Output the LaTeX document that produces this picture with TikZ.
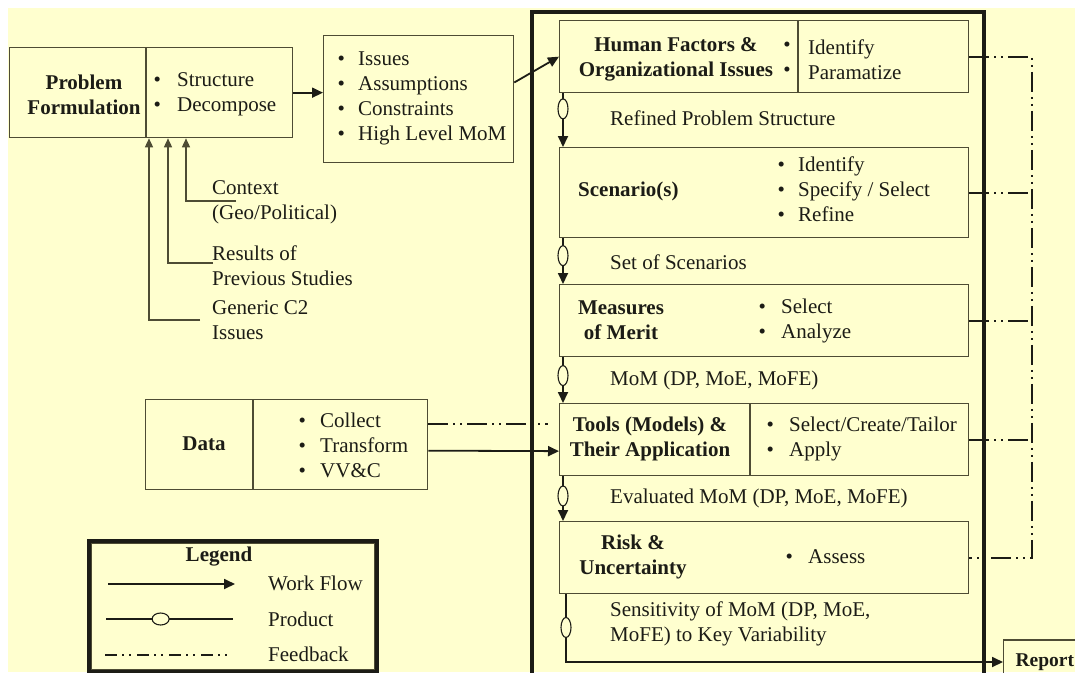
\documentclass[tikz,border=0pt]{standalone}
\usepackage{fontspec}
\setmainfont{Liberation Serif}
\usetikzlibrary{arrows.meta,calc,shapes.geometric}
\definecolor{paper}{RGB}{255,255,207}
\definecolor{ink}{RGB}{28,28,22}
\definecolor{edge}{RGB}{78,76,52}
% bullet item: bullet in a fixed-width box, then the text
\newcommand\bul[2][22.5]{\makebox[#1pt][l]{\textbullet}#2}

\begin{document}
\begin{tikzpicture}[x=1pt,y=-1pt,
  every node/.style={font=\fontsize{21}{25}\selectfont, text=ink, inner sep=0pt},
  box/.style 2 args={draw=edge, line width=1.3pt, anchor=north west,
    minimum width=#1pt, minimum height=#2pt},
  title/.style={font=\fontsize{21}{25}\selectfont\bfseries, align=center},
  list/.style={anchor=west, align=left},
  divider/.style={draw=edge, line width=1.3pt},
  flow/.style={draw=ink, line width=1.8pt, -{Triangle[length=11pt,width=10pt]}},
  ctx/.style={draw=edge, line width=1.4pt, -{Triangle[length=9pt,width=8pt]}},
  fb/.style={draw=ink, line width=1.8pt,
    dash pattern=on 20pt off 5pt on 2pt off 5pt on 2pt off 5pt},
  oval/.style={ellipse, draw=ink, line width=1.1pt, fill=paper,
    minimum width=10pt, minimum height=20pt, inner sep=0pt},
  hoval/.style={ellipse, draw=ink, line width=1.1pt, fill=paper,
    minimum width=17pt, minimum height=12pt, inner sep=0pt},
]
\useasboundingbox (0,0) rectangle (1075,672);
\clip (0,0) rectangle (1075,672);
\fill[white] (0,0) rectangle (1075,672);
\fill[paper] (8,8) rectangle (1075,672);

% ---------- left column ----------
\node[box={283}{90}] (pf) at (9,47) {};
\draw[divider] ($(pf.north west)+(137,0)$) -- ($(pf.south west)+(137,0)$);
\node[title] (pft) at (84,94.5) {Problem\\Formulation};
\node[list] (pfl) at (153.5,94.5) {\bul[23.5]{Structure}\\\bul[23.5]{Decompose}};

\node[box={190}{127}] (iss) at (323,35) {};
\node[list] (issl) at (337.5,98.5)
  {\bul[20.5]{Issues}\\\bul[20.5]{Assumptions}\\\bul[20.5]{Constraints}\\\bul[20.5]{High Level MoM}};

\draw[flow] (pf.east) -- (pf.east -| iss.west);

% inputs to the problem formulation
\node[list] (ctx1) at (212,202) {Context\\(Geo/Political)};
\node[list] (ctx2) at (212,266) {Results of\\Previous Studies};
\node[list] (ctx3) at (212,320) {Generic C2\\Issues};
\coordinate (c1) at (236,201);
\coordinate (c2) at (213,263);
\coordinate (c3) at (200,320);
\draw[ctx] (c1) -| ($(pf.south west)+(177,0)$);
\draw[ctx] (c2) -| ($(pf.south west)+(159,0)$);
\draw[ctx] (c3) -| ($(pf.south west)+(140,0)$);

% data
\node[box={282}{90}] (data) at (145,399) {};
\draw[divider] ($(data.north west)+(108,0)$) -- ($(data.south west)+(108,0)$);
\node[title] (datat) at (204,444) {Data};
\node[list] (datal) at (298.5,445)
  {\bul[21.5]{Collect}\\\bul[21.5]{Transform}\\\bul[21.5]{VV\&C}};

% ---------- analysis frame ----------
\node[draw=ink, line width=4pt, anchor=north west, minimum width=452pt,
  minimum height=690pt] (core) at (530,10) {};

\node[box={409}{72}] (hf) at (559,20) {};
\draw[divider] ($(hf.north west)+(239,0)$) -- ($(hf.south west)+(239,0)$);
\node[title] (hft) at (676,59.5) {Human Factors \&\\Organizational Issues};
\node[align=center] (hfb) at (787,59.5) {\textbullet\\\textbullet};
\node[list] (hfl) at (808,59.5) {Identify\\Paramatize};

\draw[flow] ($(iss.north east)!0.37!(iss.south east)$) -- (hf.west);

\node[box={409}{90}] (sc) at (559,147) {};
\node[title, anchor=west] (sct) at (578,191) {Scenario(s)};
\node[list] (scl) at (777.5,189.5)
  {\bul[20.5]{Identify}\\\bul[20.5]{Specify / Select}\\\bul[20.5]{Refine}};

\node[box={409}{72}] (mm) at (559,284) {};
\node[title] (mmt) at (621,320.5) {Measures\\of Merit};
\node[list] (mml) at (758.5,320.5) {\bul{Select}\\\bul{Analyze}};

\node[box={409}{72}] (tl) at (559,403) {};
\draw[divider] ($(tl.north west)+(191,0)$) -- ($(tl.south west)+(191,0)$);
\node[title] (tlt) at (650,439) {Tools (Models) \&\\Their Application};
\node[list] (tll) at (766.5,439) {\bul{Select/Create/Tailor}\\\bul{Apply}};

\node[box={409}{72}] (rk) at (559,521) {};
\node[title] (rkt) at (633,557) {Risk \&\\Uncertainty};
\node[list] (rkl) at (785.5,557) {\bul{Assess}};

\node[draw=edge, line width=1.3pt, anchor=west, minimum height=44pt,
  minimum width=90pt, font=\fontsize{19.5}{24}\selectfont\bfseries,
  text width=80pt, inner sep=0pt] (rep) at (1003,662) {\hspace*{7pt}Report};

% products between stages
\draw[flow] ($(hf.south west)+(4,0)$) -- node[oval,pos=0.29] (o1) {} ($(sc.north west)+(4,0)$);
\draw[flow] ($(sc.south west)+(4,0)$) -- node[oval,pos=0.38] (o2) {} ($(mm.north west)+(4,0)$);
\draw[flow] ($(mm.south west)+(4,0)$) -- node[oval,pos=0.40] (o3) {} ($(tl.north west)+(4,0)$);
\draw[flow] ($(tl.south west)+(4,0)$) -- node[oval,pos=0.44] (o4) {} ($(rk.north west)+(4,0)$);
\draw[flow] ($(rk.south west)+(7,0)$) |- node[oval,pos=0.245] (o5) {} (rep.west);

\node[list] (p1) at (610,118) {Refined Problem Structure};
\node[list] (p2) at (610,262) {Set of Scenarios};
\node[list] (p3) at (610,380) {MoM (DP, MoE, MoFE)};
\node[list] (p4) at (610,498) {Evaluated MoM (DP, MoE, MoFE)};
\node[list] (p5) at (610,624) {Sensitivity of MoM (DP, MoE,\\MoFE) to Key Variability};

% data feeds the tools
\draw[flow] ($(data.east)+(0,6)$) -- ($(tl.west)+(0,11.5)$);
\draw[fb] ($(data.east)+(0,-21)$) -- ++(120,0);

% feedback loop
\coordinate (fbx) at (1032,0);
\draw[fb] (hf.east) -- (hf.east -| fbx) -- (rk.east -| fbx) -- (rk.east);
\draw[fb] (sc.east) -- (sc.east -| fbx);
\draw[fb] (mm.east) -- (mm.east -| fbx);
\draw[fb] (tl.east) -- (tl.east -| fbx);

% ---------- legend ----------
\node[draw=ink, line width=4pt, anchor=north west, minimum width=288pt,
  minimum height=131pt] (legend) at (87,539) {};
\draw[draw=edge, line width=0.9pt]
  ($(legend.north west)+(4.5,4.5)$) rectangle ($(legend.south east)+(-4.5,-4.5)$);
\node[title] (legt) at (219,557) {Legend};
\coordinate (lw0) at (108,584);
\coordinate (lw1) at (235,584);
\coordinate (lp0) at (106,619);
\coordinate (lp1) at (233,619);
\coordinate (lf0) at (105,655);
\coordinate (lf1) at (227,655);
\draw[flow] (lw0) -- (lw1);
\draw[draw=ink, line width=1.8pt] (lp0) -- node[hoval,pos=0.43] (lpo) {} (lp1);
\draw[fb, dash pattern=on 12pt off 5pt on 2pt off 5pt on 2pt off 6pt] (lf0) -- (lf1);
\node[list] (lwt) at (268,583) {Work Flow};
\node[list] (lpt) at (268,619) {Product};
\node[list] (lft) at (268,654) {Feedback};
\end{tikzpicture}
\end{document}
